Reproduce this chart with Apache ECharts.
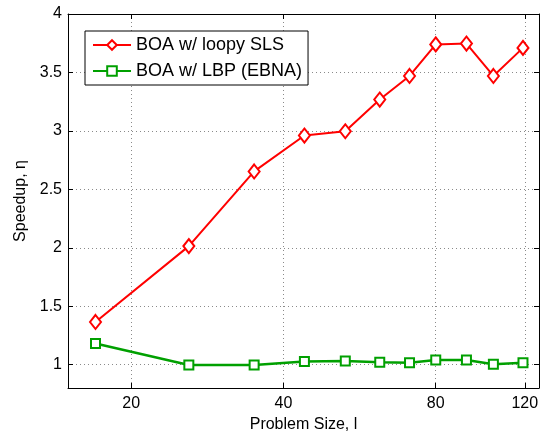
<!DOCTYPE html>
<html lang="en">
<head>
    <meta charset="UTF-8">
    <title>Speedup vs problem size</title>
    <script src="https://cdn.jsdelivr.net/npm/echarts@6/dist/echarts.min.js"></script>
    <style>
        body { margin: 0; background: #fff; }
        #chart { width: 544px; height: 433px; }
    </style>
</head>
<body>
<div id="chart"></div>
<script>
    // problem sizes (x, log scale)
    var sizes = [17, 26, 35, 44, 53, 62, 71, 80, 92, 104, 119];
    var sls = [1.365, 2.014, 2.653, 2.96, 2.997, 3.268, 3.47, 3.74, 3.747, 3.47, 3.71];
    var lbp = [1.18, 0.997, 0.997, 1.026, 1.03, 1.02, 1.017, 1.04, 1.04, 1.003, 1.015];
    var xTicks = [20, 40, 80, 120];
    var yTicks = [1, 1.5, 2, 2.5, 3, 3.5, 4];

    var chart = echarts.init(document.getElementById('chart'));

    function pairs(ys) {
        return sizes.map(function (s, i) { return [Math.log2(s), ys[i]]; });
    }
    var xLog = xTicks.map(function (t) { return Math.log2(t); });

    var font = 'Liberation Sans, Arial, sans-serif';
    var gridLine = { show: true, lineStyle: { color: '#8a8a8a', type: [1, 3], width: 1 } };

    var xBase = {
        type: 'value',
        min: Math.log2(15),
        max: 7,
        axisLine: { show: true, lineStyle: { color: '#000', width: 1 } },
        axisTick: { show: true, inside: true, length: 5, customValues: xLog, lineStyle: { color: '#000' } }
    };
    var yBase = {
        type: 'value',
        min: 0.8,
        max: 4,
        axisLine: { show: true, lineStyle: { color: '#000', width: 1 } },
        axisTick: { show: true, inside: true, length: 5, customValues: yTicks, lineStyle: { color: '#000' } }
    };

    var option = {
        backgroundColor: '#fff',
        animation: false,
        grid: { left: 68, right: 5, top: 14, bottom: 45, outerBoundsMode: 'none', containLabel: false },
        legend: {
            orient: 'vertical',
            left: 85,
            top: 31,
            padding: [5, 6, 5, 7],
            itemWidth: 38,
            itemHeight: 12,
            itemGap: 8,
            backgroundColor: '#fff',
            borderColor: '#000',
            borderWidth: 1,
            textStyle: { fontFamily: font, fontSize: 18, color: '#000' },
            data: ['BOA w/ loopy SLS', 'BOA w/ LBP (EBNA)']
        },
        xAxis: [
            Object.assign({}, xBase, {
                position: 'bottom',
                name: 'Problem Size, l',
                nameLocation: 'middle',
                nameGap: 26,
                nameTextStyle: { fontFamily: font, fontSize: 16, color: '#000' },
                splitLine: gridLine,
                axisLabel: {
                    customValues: xLog,
                    margin: 8,
                    fontFamily: font, fontSize: 16, color: '#000',
                    formatter: function (v) { return String(Math.round(Math.pow(2, v))); }
                }
            }),
            Object.assign({}, xBase, {
                position: 'top',
                splitLine: { show: false },
                axisLabel: { show: false }
            })
        ],
        yAxis: [
            Object.assign({}, yBase, {
                position: 'left',
                name: 'Speedup, η',
                nameLocation: 'middle',
                nameGap: 37,
                nameTextStyle: { fontFamily: font, fontSize: 16, color: '#000' },
                splitLine: gridLine,
                axisLabel: {
                    customValues: yTicks,
                    margin: 6,
                    fontFamily: font, fontSize: 16, color: '#000'
                }
            }),
            Object.assign({}, yBase, {
                position: 'right',
                splitLine: { show: false },
                axisLabel: { show: false }
            })
        ],
        series: [
            {
                name: 'BOA w/ loopy SLS',
                type: 'line',
                data: pairs(sls),
                symbol: 'diamond',
                symbolSize: [11, 14],
                showAllSymbol: true,
                itemStyle: { color: '#fff', borderColor: '#ff0000', borderWidth: 2 },
                lineStyle: { color: '#ff0000', width: 2 },
                z: 3
            },
            {
                name: 'BOA w/ LBP (EBNA)',
                type: 'line',
                data: pairs(lbp),
                symbol: 'rect',
                symbolSize: 9,
                showAllSymbol: true,
                itemStyle: { color: '#fff', borderColor: '#00a000', borderWidth: 2 },
                lineStyle: { color: '#00a000', width: 2.5 },
                z: 2
            }
        ]
    };

    chart.setOption(option);
</script>
</body>
</html>
